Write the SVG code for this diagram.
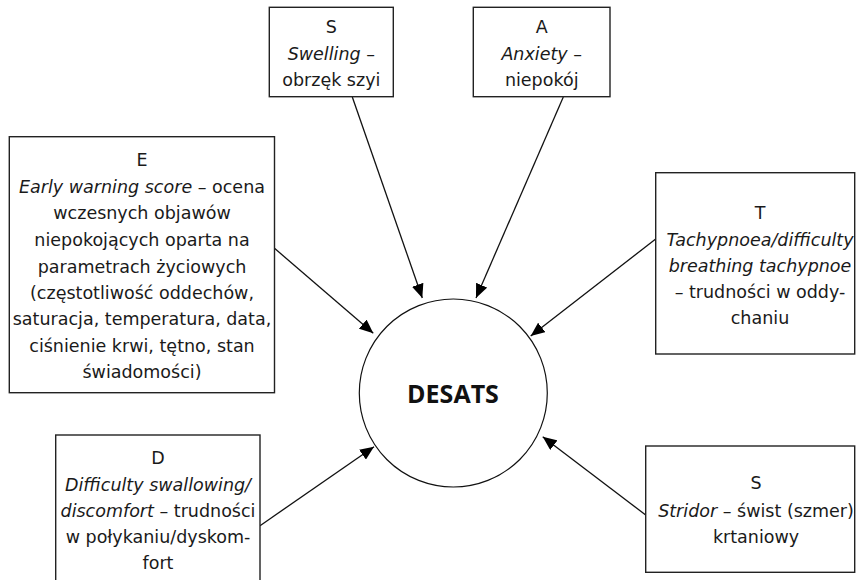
<svg xmlns="http://www.w3.org/2000/svg" width="856" height="580" viewBox="0 0 856 580">
<defs>
<style>
.box{fill:#fff;stroke:#222;stroke-width:1.4}
.t{font-family:"DejaVu Sans","Open Sans",sans-serif;font-size:17.5px;fill:#1a1a1a;text-anchor:middle}
.i{font-style:italic}
.c{stroke:#111;stroke-width:1.3;fill:none;marker-end:url(#ah)}
.title{font-family:"Open Sans","Liberation Sans",sans-serif;font-size:25px;font-weight:bold;fill:#111;text-anchor:middle}
</style>
<marker id="ah" markerUnits="userSpaceOnUse" markerWidth="14" markerHeight="12" refX="14" refY="6" orient="auto">
<path d="M0,0 L14,6 L0,12 z" fill="#000"/>
</marker>
</defs>
<rect width="856" height="580" fill="#fff"/>
<g id="connectors">
<line class="c" x1="352.3" y1="97" x2="422.3" y2="298"/>
<line class="c" x1="563.3" y1="97" x2="476" y2="298"/>
<line class="c" x1="274.5" y1="248.3" x2="373.3" y2="333.3"/>
<line class="c" x1="655.7" y1="239" x2="530.7" y2="336"/>
<line class="c" x1="260" y1="525.7" x2="374" y2="446.7"/>
<line class="c" x1="645.7" y1="515" x2="542.7" y2="436.7"/>
</g>
<g id="desats">
<circle cx="453.3" cy="393" r="94" fill="#fff" stroke="#111" stroke-width="1.2"/>
<text class="title" x="453" y="402.5">DESATS</text>
</g>
<g id="node-s-swelling">
<rect class="box" x="269.3" y="7.3" width="124" height="89.4"/>
<text class="t" x="331.3" y="33.3">S</text>
<text class="t" x="331.3" y="59.5"><tspan class="i">Swelling</tspan> –</text>
<text class="t" x="331.3" y="86">obrzęk szyi</text>
</g>
<g id="node-a-anxiety">
<rect class="box" x="473.3" y="7.3" width="136.7" height="89.4"/>
<text class="t" x="541.7" y="33.3">A</text>
<text class="t" x="541.7" y="59.5"><tspan class="i">Anxiety</tspan> –</text>
<text class="t" x="541.7" y="86">niepokój</text>
</g>
<g id="node-e">
<rect class="box" x="9.3" y="136.7" width="265.2" height="256"/>
<text class="t" x="142" y="165.5">E</text>
<text class="t" x="142" y="192.5"><tspan class="i">Early warning score</tspan> – ocena</text>
<text class="t" x="142" y="219.3">wczesnych objawów</text>
<text class="t" x="142" y="246">niepokojących oparta na</text>
<text class="t" x="142" y="272.7">parametrach życiowych</text>
<text class="t" x="142" y="299">(częstotliwość oddechów,</text>
<text class="t" x="142" y="325.3">saturacja, temperatura, data,</text>
<text class="t" x="142" y="351.7">ciśnienie krwi, tętno, stan</text>
<text class="t" x="142" y="377.5">świadomości)</text>
</g>
<g id="node-t">
<rect class="box" x="655.7" y="172.7" width="199" height="181.3"/>
<text class="t" x="760" y="219.3">T</text>
<text class="t i" x="760" y="246">Tachypnoea/difficulty</text>
<text class="t i" x="760" y="271.7">breathing tachypnoe</text>
<text class="t" x="760" y="297.5">– trudności w oddy-</text>
<text class="t" x="760" y="323.5">chaniu</text>
</g>
<g id="node-d">
<rect class="box" x="55.7" y="435" width="204.3" height="160"/>
<text class="t" x="158" y="464">D</text>
<text class="t i" x="158" y="491">Difficulty swallowing/</text>
<text class="t" x="158" y="517.3"><tspan class="i">discomfort</tspan> – trudności</text>
<text class="t" x="158" y="543.3">w połykaniu/dyskom-</text>
<text class="t" x="158" y="569.3">fort</text>
</g>
<g id="node-s-stridor">
<rect class="box" x="645.7" y="446" width="209" height="126.3"/>
<text class="t" x="756" y="489.3">S</text>
<text class="t" x="756" y="516.7"><tspan class="i">Stridor</tspan> – świst (szmer)</text>
<text class="t" x="756" y="543.3">krtaniowy</text>
</g>
</svg>
